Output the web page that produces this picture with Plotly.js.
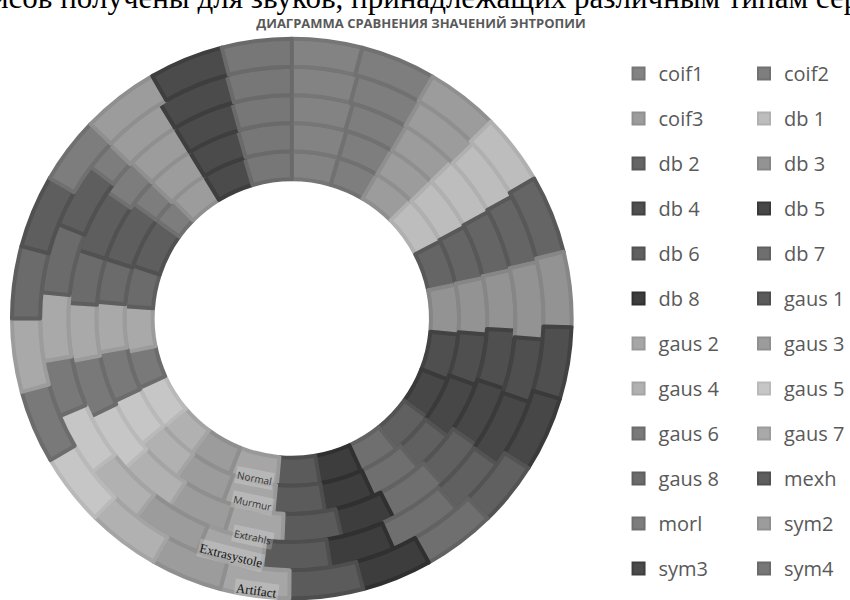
<!DOCTYPE html>
<html>
<head>
<meta charset="utf-8">
<script src="https://cdn.plot.ly/plotly-3.0.1.min.js"></script>
<style>
  html, body { margin: 0; padding: 0; background: #ffffff; }
  #chart { width: 850px; height: 600px; }
</style>
</head>
<body>
<div id="chart"></div>
<script>
// Wavelet families (slices) and sound types (rings, inner to outer)
const wavelets = ['coif1', 'coif2', 'coif3', 'db 1', 'db 2', 'db 3', 'db 4', 'db 5', 'db 6', 'db 7', 'db 8',
  'gaus 1', 'gaus 2', 'gaus 3', 'gaus 4', 'gaus 5', 'gaus 6', 'gaus 7', 'gaus 8', 'mexh', 'morl', 'sym2', 'sym3', 'sym4'];
const soundTypes = ['Normal', 'Murmur', 'Extrahls', 'Extrasystole', 'Artifact'];

// Relative entropy of each wavelet within a sound type
const normal       = [16.2, 14.3, 14.7, 17.3, 15.8, 17.2, 15.9, 14.7, 15.2, 14.3, 14.7, 14.8, 16.6, 14.8, 13.1, 15.9, 13.0, 15.7, 14.2, 17.6, 8.8, 13.7, 15.1, 16.4];
const murmur       = [16.3, 14.3, 14.9, 16.5, 16.0, 16.7, 15.2, 17.2, 12.5, 15.7, 14.9, 15.2, 15.2, 15.4, 14.0, 15.0, 15.0, 14.9, 12.9, 18.2, 8.1, 14.4, 15.5, 16.0];
const extrahls     = [15.9, 14.9, 14.7, 16.0, 16.0, 15.6, 15.2, 16.1, 13.3, 15.3, 14.1, 15.3, 15.1, 15.5, 15.0, 16.0, 15.0, 15.0, 13.8, 16.7, 9.7, 14.3, 16.0, 15.5];
const extrasystole = [15.2, 15.3, 15.5, 15.0, 16.0, 17.8, 14.6, 16.0, 13.7, 17.1, 14.9, 15.7, 15.3, 15.9, 14.4, 14.8, 13.0, 15.8, 16.0, 15.0, 6.7, 14.8, 16.5, 15.0];
const artifact     = [14.6, 15.6, 15.1, 14.7, 16.2, 15.6, 14.9, 15.6, 13.3, 15.1, 14.5, 15.3, 14.3, 14.8, 15.1, 14.9, 15.2, 15.2, 15.0, 15.1, 13.9, 16.1, 15.4, 14.5];
const ringValues = [normal, murmur, extrahls, extrasystole, artifact];

// Grey shade of each wavelet
const fills = ['#838383', '#7e7e7e', '#9c9c9c', '#bdbdbd', '#656565', '#939393', '#4f4f4f', '#474747', '#606060', '#6f6f6f', '#3d3d3d',
  '#5b5b5b', '#a6a6a6', '#9c9c9c', '#b1b1b1', '#c6c6c6', '#797979', '#a9a9a9', '#6b6b6b', '#5e5e5e', '#7d7d7d', '#9c9c9c', '#4b4b4b', '#777777'];

const chartTitle = 'ДИАГРАММА СРАВНЕНИЯ ЗНАЧЕНИЙ ЭНТРОПИИ';
const captionLine = 'исов получены для звуков, принадлежащих различным типам сер';

// ---- layout constants (pixels) ----
const W = 850, H = 600;
const cx = 292.5, cy = 318.5;
const rHole = 139.5, rOuter = 280.5;
const ringStep = (rOuter - rHole) / soundTypes.length;

function darker(hex, amt) {
  const v = parseInt(hex.slice(1), 16);
  const c = [(v >> 16) & 255, (v >> 8) & 255, v & 255].map(x => Math.max(0, x - amt));
  return 'rgb(' + c.join(',') + ')';
}
const borders = fills.map(f => darker(f, 13));

const data = [];

// Legend entries: two columns, one legend each, one group per wavelet.
// Their own pies are 1px dots tucked under the outer ring.
const dotX = cx, dotY = 60;
wavelets.forEach((w, i) => {
  data.push({
    type: 'pie',
    labels: [w],
    values: [1],
    sort: false,
    marker: { colors: [fills[i]], line: { color: [borders[i]], width: 2 } },
    domain: { x: [(dotX - 1) / W, (dotX + 1) / W], y: [1 - (dotY + 1) / H, 1 - (dotY - 1) / H] },
    textinfo: 'none',
    hoverinfo: 'skip',
    showlegend: true,
    legend: i % 2 === 0 ? 'legend' : 'legend2',
    legendgroup: w
  });
});

// Concentric rings
soundTypes.forEach((name, k) => {
  const rIn = rHole + k * ringStep;
  const rOut = rIn + ringStep;
  data.push({
    type: 'pie',
    name: name,
    labels: wavelets,
    values: ringValues[k],
    sort: false,
    direction: 'clockwise',
    rotation: 0,
    hole: rIn / rOut,
    domain: {
      x: [(cx - rOut) / W, (cx + rOut) / W],
      y: [(H - cy - rOut) / H, (H - cy + rOut) / H]
    },
    marker: { colors: fills, line: { color: borders, width: 4 } },
    textinfo: 'none',
    showlegend: false,
    hovertemplate: '%{label}: %{value}<extra>' + name + '</extra>'
  });
});

// Sound type labels placed on the rings
const labelStyle = [
  { x: 255.3, y: 478.3, a: 11, family: 'Open Sans', size: 10, color: '#333333' },
  { x: 253.3, y: 503.3, a: 12, family: 'Open Sans', size: 10, color: '#333333' },
  { x: 253.3, y: 536.7, a: 12, family: 'Open Sans', size: 10, color: '#333333' },
  { x: 231.7, y: 555.0, a: 14, family: 'Liberation Serif', size: 13, color: '#111111' },
  { x: 256.7, y: 590.5, a: 8,  family: 'Liberation Serif', size: 13, color: '#111111' }
];
const annotations = soundTypes.map((name, k) => ({
  text: name,
  xref: 'paper', yref: 'paper',
  x: labelStyle[k].x / W, y: 1 - labelStyle[k].y / H,
  xanchor: 'center', yanchor: 'middle',
  textangle: labelStyle[k].a,
  showarrow: false,
  bgcolor: 'rgba(255,255,255,0.2)',
  borderpad: 1,
  font: { family: labelStyle[k].family, size: labelStyle[k].size, color: labelStyle[k].color }
}));

// Line of running text above the chart
annotations.push({
  text: captionLine,
  xref: 'paper', yref: 'paper',
  x: 427 / W, y: 1 + 2 / H,
  xanchor: 'center', yanchor: 'middle',
  showarrow: false,
  font: { family: 'Liberation Serif', size: 31, color: '#000000' }
});

const legendCommon = {
  orientation: 'v',
  xanchor: 'left', yanchor: 'top',
  traceorder: 'grouped',
  tracegroupgap: 16,
  bgcolor: 'rgba(0,0,0,0)',
  borderwidth: 0,
  itemclick: false, itemdoubleclick: false,
  font: { family: 'Open Sans', size: 20, color: '#595959' }
};

const layout = {
  width: W, height: H,
  margin: { l: 0, r: 0, t: 0, b: 0 },
  paper_bgcolor: '#ffffff',
  showlegend: true,
  title: {
    text: chartTitle,
    x: 421 / W, xanchor: 'center',
    y: 1 - 23 / H, yanchor: 'middle',
    font: { family: 'Open Sans', size: 13, color: '#595959', weight: 700 }
  },
  legend: Object.assign({}, legendCommon, { x: 620 / W, y: 1 - 54 / H }),
  legend2: Object.assign({}, legendCommon, { x: 746 / W, y: 1 - 54 / H }),
  annotations: annotations
};

Plotly.newPlot('chart', data, layout, { displayModeBar: false, staticPlot: true });
</script>
</body>
</html>
